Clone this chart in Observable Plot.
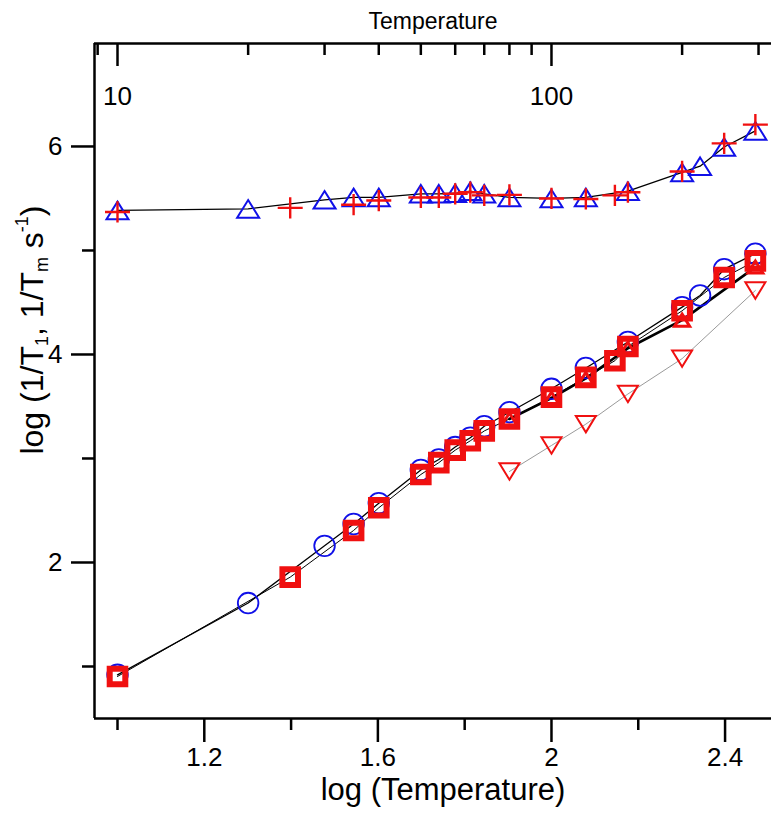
<!DOCTYPE html>
<html><head><meta charset="utf-8">
<script src="https://cdn.jsdelivr.net/npm/d3@7"></script>
<script src="https://cdn.jsdelivr.net/npm/@observablehq/plot@0.6"></script>
<style>body{margin:0;background:#fff} svg{display:block}</style>
</head><body><div id="chart"></div>
<script>
// ---- data (temperature in K, values are log10 of rates) ----
const triTemps  = [10,20,30,35,40,50,55,60,65,70,80,100,120,150,200,220,250,295];
const triVals   = [5.385,5.40,5.487,5.51,5.51,5.545,5.545,5.55,5.57,5.545,5.51,5.50,5.51,5.57,5.75,5.81,5.995,6.15];
const plusTemps = [10,25,35,40,50,55,60,65,70,80,100,120,140,150,200,250,295];
const plusVals  = [5.37,5.41,5.44,5.48,5.51,5.51,5.545,5.56,5.53,5.535,5.50,5.495,5.53,5.56,5.76,6.03,6.21];
const circTemps = [10,20,30,35,40,50,55,60,65,70,80,100,120,150,200,220,250,295];
const circVals  = [0.92,1.61,2.16,2.37,2.57,2.89,2.99,3.11,3.20,3.31,3.445,3.67,3.87,4.12,4.455,4.567,4.82,4.97];
const sqTemps   = [10,25,35,40,50,55,60,65,70,80,100,120,140,150,200,250,295];
const sqVals    = [0.904,1.859,2.308,2.526,2.846,2.96,3.08,3.17,3.265,3.38,3.59,3.78,3.94,4.077,4.42,4.74,4.90];
const rtTemps   = [80,100,120,150,200,295];
const rtVals    = [3.38,3.58,3.77,4.06,4.33,4.84];
const dnTemps   = [80,100,120,150,200,295];
const dnVals    = [2.875,3.125,3.33,3.62,3.96,4.615];

const xDomain = [0.947, 2.507];
const yDomain = [0.5, 6.99];
const xMajor = [1.2, 1.6, 2.0, 2.4];
const xMinor = [1.0, 1.4, 1.8, 2.2];
const yMajor = [2, 4, 6];
const yMinor = [1, 3, 5];
const topMajor = [10, 100];
const topMinor = [9, 20, 30, 40, 50, 60, 70, 80, 90, 200, 300];

const BLUE = "#1010e8", RED = "#f01010";
const rows = (ts, vs) => ts.map((t, i) => ({x: Math.log10(t), y: vs[i]}));

// custom marker shapes
const rad = s => Math.sqrt(s / Math.PI);
const triUp = {draw(c, s){const r = rad(s); c.moveTo(0,-0.8*r); c.lineTo(r,0.8*r); c.lineTo(-r,0.8*r); c.closePath();}};
const triDown = {draw(c, s){const r = rad(s); c.moveTo(0,0.82*r); c.lineTo(r,-0.82*r); c.lineTo(-r,-0.82*r); c.closePath();}};
const plus = {draw(c, s){const r = rad(s); c.moveTo(-r,0); c.lineTo(r,0); c.moveTo(0,-0.85*r); c.lineTo(0,0.85*r);}};
const square = {draw(c, s){const r = rad(s); c.rect(-r,-r,2*r,2*r);}};

const font = "'Liberation Sans', Arial, Helvetica, sans-serif";

const chart = Plot.plot({
  width: 771, height: 815,
  marginLeft: 94, marginRight: 0, marginTop: 43, marginBottom: 97,
  style: {fontFamily: font, background: "white", color: "black"},
  x: {domain: xDomain, axis: null},
  y: {domain: yDomain, axis: null},
  marks: [
    // axis lines (left, top, bottom)
    Plot.ruleX([xDomain[0]], {stroke: "black", strokeWidth: 2.5}),
    Plot.ruleY([yDomain[0], yDomain[1]], {stroke: "black", strokeWidth: 2.5}),
    // left axis
    Plot.axisY(yMajor, {anchor: "left", tickSize: 23, tickPadding: 9, strokeWidth: 2.5, fontSize: 26, label: null, tickFormat: d => String(d)}),
    Plot.axisY(yMinor, {anchor: "left", tickSize: 12, strokeWidth: 2.5, label: null, tickFormat: () => ""}),
    // bottom axis
    Plot.axisX(xMajor, {anchor: "bottom", tickSize: 24, tickPadding: 5, strokeWidth: 2.5, fontSize: 26, label: null, tickFormat: d => String(d)}),
    Plot.axisX(xMinor, {anchor: "bottom", tickSize: 12, strokeWidth: 2.5, label: null, tickFormat: () => ""}),
    // top axis (Temperature, log scale), ticks pointing inward
    Plot.axisX(topMajor.map(Math.log10), {anchor: "top", tickSize: -22, strokeWidth: 2.5, label: null, tickFormat: () => ""}),
    Plot.axisX(topMinor.map(Math.log10), {anchor: "top", tickSize: -11, strokeWidth: 2.5, label: null, tickFormat: () => ""}),
    Plot.text(topMajor, {x: d => Math.log10(d), text: d => String(d), frameAnchor: "top", dy: 43, fontSize: 26}),
    // titles
    Plot.text(["Temperature"], {text: d => d, frameAnchor: "top", dy: -31, fontSize: 23}),
    Plot.text(["log (Temperature)"], {text: d => d, frameAnchor: "bottom", dy: 81, dx: 10, fontSize: 31}),
    // lines
    Plot.line(rows(dnTemps, dnVals), {x: "x", y: "y", stroke: "#9a9a9a", strokeWidth: 1}),
    Plot.line(rows(triTemps, triVals), {x: "x", y: "y", stroke: "black", strokeWidth: 1.3}),
    Plot.line(rows(circTemps, circVals), {x: "x", y: "y", stroke: "black", strokeWidth: 1.3}),
    Plot.line(rows(sqTemps, sqVals), {x: "x", y: "y", stroke: "black", strokeWidth: 1}),
    Plot.line(rows(rtTemps, rtVals), {x: "x", y: "y", stroke: "black", strokeWidth: 2.6}),
    // markers
    Plot.dot(rows(circTemps, circVals), {x: "x", y: "y", r: 10.3, stroke: BLUE, strokeWidth: 1.8, fill: "none"}),
    Plot.dot(rows(sqTemps, sqVals), {x: "x", y: "y", symbol: square, r: 7.8, stroke: RED, strokeWidth: 6, fill: "none"}),
    Plot.dot(rows(rtTemps, rtVals), {x: "x", y: "y", symbol: triUp, r: 7.5, stroke: RED, strokeWidth: 3, fill: "none"}),
    Plot.dot(rows(dnTemps, dnVals), {x: "x", y: "y", symbol: triDown, r: 10, stroke: RED, strokeWidth: 2, fill: "none"}),
    Plot.dot(rows(triTemps, triVals), {x: "x", y: "y", symbol: triUp, r: 11, stroke: BLUE, strokeWidth: 2, fill: "none"}),
    Plot.dot(rows(plusTemps, plusVals), {x: "x", y: "y", symbol: plus, r: 12.5, stroke: RED, strokeWidth: 2.4, fill: "none"})
  ]
});
document.getElementById("chart").appendChild(chart);

// y-axis label with sub/superscripts
const svg = d3.select(chart);
const yl = svg.append("text")
  .attr("transform", "translate(35,330) rotate(-90)")
  .attr("text-anchor", "middle")
  .attr("dominant-baseline", "middle")
  .attr("font-family", font)
  .attr("font-size", 32)
  .attr("fill", "black");
yl.append("tspan").text("log (1/T");
yl.append("tspan").attr("font-size", 18).attr("dy", 8).text("1");
yl.append("tspan").attr("dy", -8).text(", 1/T");
yl.append("tspan").attr("font-size", 18).attr("dy", 8).text("m");
yl.append("tspan").attr("dy", -8).text(" s");
yl.append("tspan").attr("font-size", 18).attr("dy", -12).text("-1");
yl.append("tspan").attr("dy", 12).text(")");
</script>
</body></html>
